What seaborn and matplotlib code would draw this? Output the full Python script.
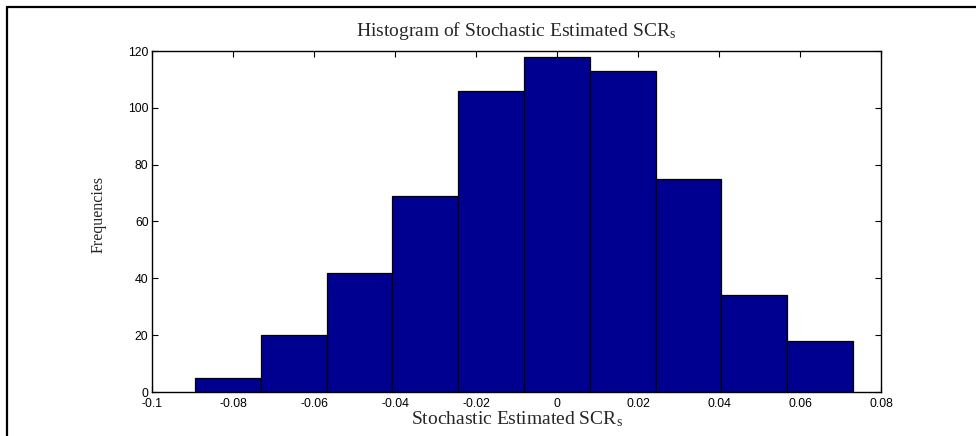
import matplotlib
matplotlib.use("Agg")
import matplotlib.pyplot as plt
from matplotlib.lines import Line2D
import numpy as np
import pandas as pd
import seaborn as sns

# Histogram bin edges and the count in each bin
bin_edges = [-0.0894, -0.07315, -0.0569, -0.04065, -0.0244, -0.00815,
             0.0081, 0.02435, 0.0406, 0.05685, 0.0731]
counts = [5, 20, 42, 69, 106, 118, 113, 75, 34, 18]
x_ticks = [-0.1, -0.08, -0.06, -0.04, -0.02, 0, 0.02, 0.04, 0.06, 0.08]
x_tick_labels = ["-0.1", "-0.08", "-0.06", "-0.04", "-0.02", "0",
                 "0.02", "0.04", "0.06", "0.08"]
y_ticks = [0, 20, 40, 60, 80, 100, 120]

sns.set_style("white")
plt.rcParams["font.family"] = ["Liberation Sans", "DejaVu Sans"]
plt.rcParams["mathtext.fontset"] = "stix"

centers = [(a + b) / 2 for a, b in zip(bin_edges[:-1], bin_edges[1:])]
df = pd.DataFrame({"value": centers, "count": counts})

fig = plt.figure(figsize=(9.76, 4.36), dpi=100)
ax = fig.add_axes([152 / 976, 1 - 392 / 436, (881 - 152) / 976, (392 - 51) / 436])

sns.histplot(data=df, x="value", weights="count", bins=bin_edges,
             color="#000090", alpha=1.0, edgecolor="black", linewidth=0.9,
             ax=ax)

ax.set_xlim(-0.1, 0.08)
ax.set_ylim(0, 120)
ax.set_xticks(x_ticks)
ax.set_xticklabels(x_tick_labels)
ax.set_yticks(y_ticks)
ax.tick_params(direction="in", length=4.5, width=0.8, labelsize=8.8,
               top=True, right=True, bottom=True, left=True,
               colors="black", pad=2.5)
ax.tick_params(axis="x", pad=4.5)
for side in ["top", "right", "bottom", "left"]:
    ax.spines[side].set_visible(True)
    ax.spines[side].set_color("black")
    ax.spines[side].set_linewidth(1.0)

serif = ["Liberation Serif", "DejaVu Serif"]
ax.set_title(r"Histogram of Stochastic Estimated SCR$_\mathregular{s}$",
             family=serif, fontsize=14, pad=11)
ax.set_xlabel(r"Stochastic Estimated SCR$_\mathregular{s}$",
              family=serif, fontsize=14, labelpad=-1)
ax.set_ylabel("Frequencies", family=serif, fontsize=11.5)
ax.yaxis.set_label_coords(-0.062, 0.52)

# Figure frame along the left and top edges
fig.add_artist(Line2D([7 / 976, 7 / 976], [0, 1 - 7 / 436],
                      transform=fig.transFigure, color="black", linewidth=1.6))
fig.add_artist(Line2D([7 / 976, 1], [1 - 7 / 436, 1 - 7 / 436],
                      transform=fig.transFigure, color="black", linewidth=1.6))

fig.savefig("out.png", dpi=100)
